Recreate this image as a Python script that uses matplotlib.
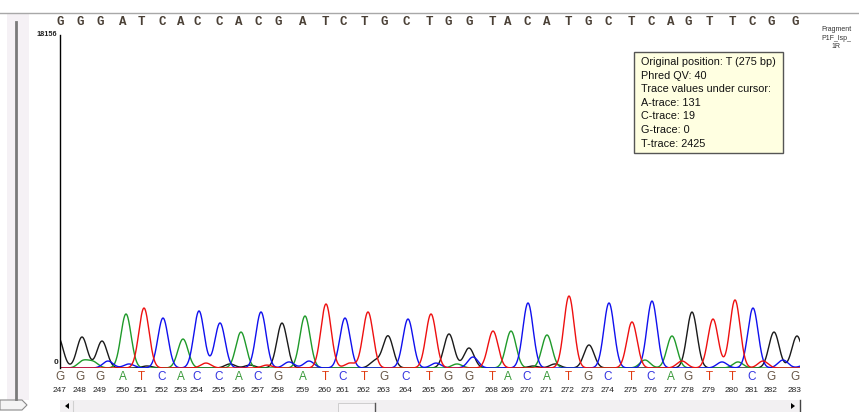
import numpy as np
import matplotlib
matplotlib.use("Agg")
import matplotlib.pyplot as plt
from matplotlib.patches import Rectangle, Polygon
import matplotlib.transforms as mtransforms

# ---------------- data ----------------
# base calls (positions 247..283) and their scan positions
base_numbers = list(range(247, 284))
base_calls = list("GGGATCACCACGATCTGCTGGTACATGCTCAGTTCGG")
base_scans = [0, 20, 40, 63, 81, 102, 121, 137, 159, 179, 198, 218, 243, 265, 283,
              304, 324, 346, 369, 388, 409, 432, 448, 467, 487, 508, 528, 548, 571,
              591, 611, 628, 649, 672, 692, 711, 735]

# peak centres (scan) and heights (trace units) for each channel
g_peak_scans = [-2, 22, 42, 87, 170, 190, 222, 315, 328, 389, 409, 473, 495, 529, 632, 714, 737]
g_peak_heights = [1690, 1690, 1470, 110, 220, 160, 2450, 380, 1745, 1855, 1090, 110, 220, 1255, 3050, 1960, 1745]

a_peak_scans = [23, 33, 66, 123, 181, 245, 397, 451, 487, 585, 612, 678]
a_peak_heights = [380, 330, 2945, 1580, 1960, 2835, 220, 2015, 1800, 435, 1745, 330]

c_peak_scans = [48, 69, 103, 139, 160, 201, 229, 249, 285, 348, 376, 413, 468, 549, 592, 662, 693, 723, 745]
c_peak_heights = [380, 220, 2725, 3110, 2455, 3055, 330, 380, 2725, 2670, 270, 600, 3545, 3545, 3650, 330, 3270, 435, 160]

t_peak_scans = [84, 146, 207, 266, 290, 308, 371, 433, 509, 572, 622, 653, 675, 703]
t_peak_heights = [3270, 270, 160, 3490, 270, 3055, 2945, 2015, 3925, 2510, 380, 2670, 3710, 380]

y_max = 18156
tooltip_lines = ["Original position: T (275 bp)", "Phred QV: 40", "Trace values under cursor:",
                 "A-trace: 131", "C-trace: 19", "G-trace: 0", "T-trace: 2425"]
fragment_label = "Fragment\nP1F_lsp_\n1R"

# ---------------- styling ----------------
W, H = 859, 412
PEAK_SIGMA = 5.1
trace_colors = {"G": "#1a1a1a", "A": "#1f9a2a", "C": "#1010ee", "T": "#ee1010"}
label_colors = {"G": "#6a5848", "A": "#3a9a3a", "C": "#3535e0", "T": "#e03a10"}

fig = plt.figure(figsize=(W / 100, H / 100), dpi=100)
fig.patch.set_facecolor("white")

def fx(x):
    return x / W

def fy(y):
    return 1 - y / H

# plot axes: x 60..800 px, y 35..368 px
ax = fig.add_axes([fx(60), fy(368), (800 - 60) / W, (368 - 35) / H])
ax.set_xlim(0, 740)
ax.set_ylim(0, y_max)
for s in ["top", "right", "bottom"]:
    ax.spines[s].set_visible(False)
ax.spines["left"].set_color("black")
ax.spines["left"].set_linewidth(1.0)
ax.set_xticks([])
ax.set_yticks([])
ax.patch.set_alpha(0)

xs = np.linspace(-20, 760, 4000)

def trace(centers, heights):
    c = np.asarray(centers, float)[:, None]
    h = np.asarray(heights, float)[:, None]
    return (h * np.exp(-0.5 * ((xs[None, :] - c) / PEAK_SIGMA) ** 2)).sum(axis=0)

for base, cs, hs in [("G", g_peak_scans, g_peak_heights),
                     ("A", a_peak_scans, a_peak_heights),
                     ("C", c_peak_scans, c_peak_heights),
                     ("T", t_peak_scans, t_peak_heights)]:
    ax.plot(xs, trace(cs, hs), color=trace_colors[base], lw=1.0, solid_joinstyle="round")

# y labels
fig.text(fx(57), fy(35), str(y_max), ha="right", va="center", fontsize=5.3,
         family="Liberation Sans", weight="bold", color="#222222")
fig.text(fx(58), fy(363), "0", ha="right", va="center", fontsize=6,
         family="Liberation Sans", weight="bold", color="#222222")

blend = mtransforms.blended_transform_factory(ax.transData, fig.transFigure)
for b, n, s in zip(base_calls, base_numbers, base_scans):
    # top sequence
    ax.text(s, fy(22), b, transform=blend, ha="center", va="center", fontsize=9,
            family="Liberation Mono", weight="bold", color="#4a4036", clip_on=False)
    # bottom base calls
    ax.text(s, fy(377), b, transform=blend, ha="center", va="center", fontsize=8.5,
            family="Liberation Sans", color=label_colors[b], clip_on=False)
    ax.text(s, fy(390), str(n), transform=blend, ha="center", va="center", fontsize=6,
            family="Liberation Sans", color="#222222", clip_on=False)

# fragment label
fig.text(fx(836), fy(38), fragment_label, ha="center", va="center", fontsize=5,
         family="Liberation Sans", color="#333333", linespacing=1.25)

# tooltip
fig.add_artist(Rectangle((fx(634), fy(153)), (783 - 634) / W, (153 - 52) / H,
                         transform=fig.transFigure, facecolor="#ffffe1",
                         edgecolor="#555555", lw=1.0))
for i, line in enumerate(tooltip_lines):
    fig.text(fx(641), fy(62 + i * 13.6), line, ha="left", va="center", fontsize=7.8,
             family="Liberation Sans", color="#111111")

# top border line
fig.add_artist(plt.Line2D([0, 1], [fy(13), fy(13)], transform=fig.transFigure,
                          color="#a8a8a8", lw=1.0))

# left panel
fig.add_artist(Rectangle((fx(7), fy(400)), (29 - 7) / W, (400 - 14) / H,
                         transform=fig.transFigure, facecolor="#f5f1f5", edgecolor="none"))
fig.add_artist(plt.Line2D([fx(16), fx(16)], [fy(22), fy(399)], transform=fig.transFigure,
                          color="#7a7a7a", lw=2.0))
fig.add_artist(Polygon([(fx(0), fy(400)), (fx(22), fy(400)), (fx(27), fy(405)),
                        (fx(22), fy(410)), (fx(0), fy(410))], closed=True,
                       transform=fig.transFigure, facecolor="#f4f4f4",
                       edgecolor="#8a8a8a", lw=0.8))

# bottom scrollbar
fig.add_artist(Rectangle((fx(60), fy(412)), (800 - 60) / W, 12 / H,
                         transform=fig.transFigure, facecolor="#f2f0f2", edgecolor="none"))
fig.add_artist(Rectangle((fx(338), fy(412)), (375 - 338) / W, 9 / H,
                         transform=fig.transFigure, facecolor="#f7f5f7",
                         edgecolor="#c8c8c8", lw=0.6))
fig.add_artist(plt.Line2D([fx(375), fx(375)], [fy(403), fy(412)], transform=fig.transFigure,
                          color="#555555", lw=1.0))
fig.add_artist(plt.Line2D([fx(73), fx(73)], [fy(401), fy(412)], transform=fig.transFigure,
                          color="#d0d0d0", lw=0.8))
fig.add_artist(plt.Line2D([fx(800), fx(800)], [fy(400), fy(412)], transform=fig.transFigure,
                          color="#444444", lw=1.0))
fig.add_artist(Polygon([(fx(65), fy(406)), (fx(69), fy(403)), (fx(69), fy(409))], closed=True,
                       transform=fig.transFigure, facecolor="black", edgecolor="none"))
fig.add_artist(Polygon([(fx(795), fy(406)), (fx(791), fy(403)), (fx(791), fy(409))], closed=True,
                       transform=fig.transFigure, facecolor="black", edgecolor="none"))

fig.savefig("out.png", dpi=100)
